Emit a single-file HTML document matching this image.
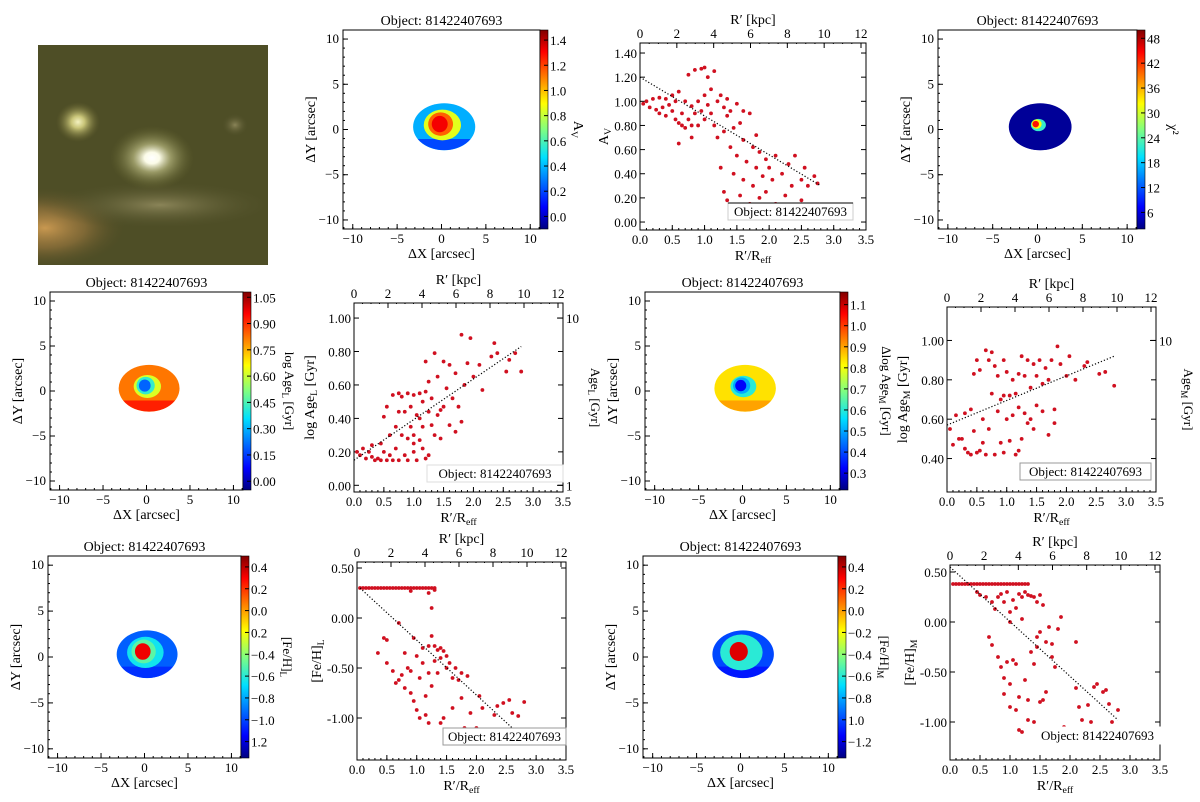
<!DOCTYPE html>
<html><head><meta charset="utf-8"><style>
html,body{margin:0;padding:0;background:#fff;}
svg{display:block;font-family:"Liberation Serif",serif;}
</style></head><body>
<svg id="fig" width="1200" height="802" viewBox="0 0 1200 802" xmlns="http://www.w3.org/2000/svg">
<defs>
<clipPath id="imgClip"><rect x="38" y="45" width="230" height="220"/></clipPath>
<radialGradient id="gBright" cx="50%" cy="50%" r="50%"><stop offset="0" stop-color="#ffffff"/><stop offset="0.18" stop-color="#fbfbe8"/><stop offset="0.45" stop-color="#b8b880" stop-opacity="0.7"/><stop offset="1" stop-color="#6a6a30" stop-opacity="0"/></radialGradient>
<radialGradient id="gSmall" cx="50%" cy="50%" r="50%"><stop offset="0" stop-color="#f4f2c0"/><stop offset="0.3" stop-color="#c8c478"/><stop offset="1" stop-color="#6a6630" stop-opacity="0"/></radialGradient>
<radialGradient id="gOrange" cx="50%" cy="50%" r="50%"><stop offset="0" stop-color="#c89850"/><stop offset="0.5" stop-color="#a07a40" stop-opacity="0.6"/><stop offset="1" stop-color="#5a5028" stop-opacity="0"/></radialGradient>
<radialGradient id="gFaint" cx="50%" cy="50%" r="50%"><stop offset="0" stop-color="#8a8458"/><stop offset="1" stop-color="#4a4a24" stop-opacity="0"/></radialGradient>
<linearGradient id="jet" x1="0" y1="1" x2="0" y2="0"><stop offset="0" stop-color="#000080"/><stop offset="0.11" stop-color="#0000ff"/><stop offset="0.36" stop-color="#00e0ff"/><stop offset="0.5" stop-color="#80ff80"/><stop offset="0.63" stop-color="#ffff00"/><stop offset="0.89" stop-color="#ff0000"/><stop offset="1" stop-color="#800000"/></linearGradient>
</defs>
<g clip-path="url(#imgClip)">
<rect x="38" y="45" width="230" height="220" fill="#4e4e26"/>
<ellipse cx="45" cy="228" rx="80" ry="40" fill="url(#gOrange)"/>
<ellipse cx="160" cy="205" rx="120" ry="25" fill="url(#gFaint)"/>
<ellipse cx="235" cy="125" rx="14" ry="12" fill="url(#gFaint)"/>
<ellipse cx="78" cy="122" rx="22" ry="20" fill="url(#gSmall)"/>
<ellipse cx="152" cy="158" rx="42" ry="32" fill="url(#gBright)"/>
</g>
</svg>
<script>
var NS="http://www.w3.org/2000/svg";
var svg=document.getElementById('fig');
function mk(tag,parent){var e=document.createElementNS(NS,tag);(parent||svg).appendChild(e);return e;}
function at(e,o){for(var k in o)e.setAttribute(k,o[k]);return e;}
function txt(parent,x,y,s,size,anchor,rot){var t=mk('text',parent);at(t,{x:x,y:y,'font-size':size||12,'text-anchor':anchor||'middle',fill:'#000'});if(rot)t.setAttribute('transform','rotate('+rot+' '+x+' '+y+')');t.textContent=s;return t;}
function txtSub(parent,x,y,main,sub,tail,size,anchor,rot){var t=mk('text',parent);at(t,{x:x,y:y,'font-size':size,'text-anchor':anchor||'middle',fill:'#000'});if(rot)t.setAttribute('transform','rotate('+rot+' '+x+' '+y+')');
 var a=mk('tspan',t);a.textContent=main;var b=mk('tspan',t);at(b,{'font-size':size*0.7,dy:3});b.textContent=sub;var c=mk('tspan',t);at(c,{dy:-3});c.textContent=tail||'';return t;}
function jet(v){var s=[[0,[0,0,128]],[0.11,[0,0,255]],[0.36,[0,224,255]],[0.5,[128,255,128]],[0.63,[255,255,0]],[0.89,[255,0,0]],[1,[128,0,0]]];v=Math.max(0,Math.min(1,v));
 for(var i=1;i<s.length;i++){if(v<=s[i][0]){var f=(v-s[i-1][0])/(s[i][0]-s[i-1][0]);var c=s[i-1][1].map(function(a,j){return Math.round(a+(s[i][1][j]-a)*f);});return 'rgb('+c.join(',')+')';}}return 'rgb(128,0,0)';}

/* ---------- map data ---------- */
var mapTitle="Object: 81422407693";
var cbTicksA=[0.0,0.2,0.4,0.6,0.8,1.0,1.2,1.4];
var cbLabelsA=["0.0","0.2","0.4","0.6","0.8","1.0","1.2","1.4"];
var ringValsA=[0.2,0.38,0.85,1.15,1.32];
var cbTicksB=[6,12,18,24,30,36,42,48];
var cbLabelsB=["6","12","18","24","30","36","42","48"];
var ringValsB=[3,3,22,32,44];
var cbTicksC=[0,0.15,0.3,0.45,0.6,0.75,0.9,1.05];
var cbLabelsC=["0.00","0.15","0.30","0.45","0.60","0.75","0.90","1.05"];
var ringValsC=[0.92,0.82,0.62,0.42,0.2];
var cbTicksD=[0.3,0.4,0.5,0.6,0.7,0.8,0.9,1.0,1.1];
var cbLabelsD=["0.3","0.4","0.5","0.6","0.7","0.8","0.9","1.0","1.1"];
var ringValsD=[0.9,0.84,0.6,0.5,0.32];
var cbTicksE=[-1.2,-1.0,-0.8,-0.6,-0.4,-0.2,0.0,0.2,0.4];
var cbLabelsE=["1.2","\u22121.0","\u22120.8","\u22120.6","\u22120.4","0.2","0.0","0.2","0.4"];
var ringValsE=[-1.05,-0.95,-0.65,-0.5,0.32];
var cbTicksF=[-1.2,-1.0,-0.8,-0.6,-0.4,-0.2,0.0,0.2,0.4];
var cbLabelsF=["\u22121.2","1.0","\u22120.8","\u22120.6","\u22120.4","\u22120.2","0.0","0.2","0.4"];
var ringValsF=[-1.1,-1.0,-0.6,-0.6,0.35];

function drawMap(name,b,cb,ticks,labels,rings,cbName,cbLabelFn,coreScale){
 var g=mk('g');
 
 
 var w=b.x1-b.x0,h=b.y1-b.y0;
 function X(v){return b.x0+(v+11.1)/22.2*w;}
 function Y(v){return b.y1-(v+11)/22*h;}
 var sx=w/22.2,sy=h/22;
 var t=txt(g,(b.x0+b.x1)/2,b.y0-5,mapTitle,14);
 
 
 var e0=mk('ellipse',g);at(e0,{cx:X(0.3),cy:Y(0.3),rx:3.5*sx,ry:2.6*sy,fill:jet(cb.n(rings[1]))});
 var cp=mk('path',g);var cx=X(0.3),cy=Y(0.3),rx=3.5*sx,ry=2.6*sy;
 at(cp,{d:'M'+(cx-rx*0.85)+' '+(cy+ry*0.52)+' A'+rx+' '+ry+' 0 0 0 '+(cx+rx*0.85)+' '+(cy+ry*0.52)+' Z',fill:jet(cb.n(rings[0]))});
 var cs=coreScale||1;
 var e2=mk('ellipse',g);at(e2,{cx:X(0.1),cy:Y(0.5),rx:2.1*sx*cs,ry:1.7*sy*cs,fill:jet(cb.n(rings[2]))});
 var e3=mk('ellipse',g);at(e3,{cx:X(-0.1),cy:Y(0.6),rx:1.4*sx*cs,ry:1.3*sy*cs,fill:jet(cb.n(rings[3]))});
 var e4=mk('ellipse',g);at(e4,{cx:X(-0.2),cy:Y(0.6),rx:0.9*sx*cs,ry:0.9*sy*cs,fill:jet(cb.n(rings[4]))});
 var fr=mk('rect',g);at(fr,{x:b.x0,y:b.y0,width:w,height:h,fill:'none',stroke:'#000','stroke-width':1});
 
 
 [-10,-5,0,5,10].forEach(function(v){
  var l=mk('line',g);at(l,{x1:X(v),x2:X(v),y1:b.y1,y2:b.y1-5,stroke:'#000'});
  var l2=mk('line',g);at(l2,{x1:b.x0,x2:b.x0+5,y1:Y(v),y2:Y(v),stroke:'#000'});
  txt(g,X(v),b.y1+14,v<0?'\u2212'+(-v):''+v,13);
  txt(g,b.x0-4,Y(v)+4,v<0?'\u2212'+(-v):''+v,13,'end');
 });
 for(var m=-11;m<=11;m++){var l3=mk('line',g);at(l3,{x1:X(m),x2:X(m),y1:b.y1,y2:b.y1-2,stroke:'#000'});var l4=mk('line',g);at(l4,{x1:b.x0,x2:b.x0+2,y1:Y(m),y2:Y(m),stroke:'#000'});}
 var xl=txt(g,(b.x0+b.x1)/2,b.y1+29,'\u0394X [arcsec]',14);
 
 
 var yl=txt(g,b.x0-28,(b.y0+b.y1)/2,'\u0394Y [arcsec]',14,'middle',-90);
 
 
 var cbr=mk('rect',g);at(cbr,{x:b.x1,y:b.y0,width:8,height:h,fill:'url(#jet)',stroke:'#000','stroke-width':0.6});
 
 
 ticks.forEach(function(v,i){var yy=b.y1-cb.n(v)*h;var tl=mk('line',g);at(tl,{x1:b.x1+8,x2:b.x1+4,y1:yy,y2:yy,stroke:'#000'});txt(g,b.x1+10,yy+5,labels[i],13,'start');});
 var cl=cbLabelFn(g,b.x1+42,(b.y0+b.y1)/2);
 
 
}
function rng(a,b){return {n:function(v){return (v-a)/(b-a);}};}

drawMap('map-av',{x0:343,x1:540,y0:30,y1:229},rng(-0.1,1.48),cbTicksA,cbLabelsA,ringValsA,'colorbar-title-av',function(g,x,y){return txtSub(g,x-8,y,'A','V','',14,'middle',90);});
drawMap('map-chi2',{x0:938,x1:1137,y0:30,y1:229},rng(2,50),cbTicksB,cbLabelsB,ringValsB,'colorbar-title-chi2',function(g,x,y){return txt(g,x-10,y,'\u03C7\u00B2',14,'middle',90);},0.4);
drawMap('map-age-l',{x0:50,x1:243,y0:292,y1:490},rng(-0.05,1.08),cbTicksC,cbLabelsC,ringValsC,'colorbar-title-age-l',function(g,x,y){return txtSub(g,x,y,'log Age','L',' [Gyr]',13,'middle',90);},0.75);
drawMap('map-age-m',{x0:645,x1:840,y0:292,y1:490},rng(0.22,1.16),cbTicksD,cbLabelsD,ringValsD,'colorbar-title-age-m',function(g,x,y){return txtSub(g,x,y,'\u0394log Age','M',' [Gyr]',13,'middle',90);},0.7);
drawMap('map-feh-l',{x0:48,x1:241,y0:556,y1:758},rng(-1.35,0.5),cbTicksE,cbLabelsE,ringValsE,'colorbar-title-feh-l',function(g,x,y){return txtSub(g,x,y,'[Fe/H]','L','',13,'middle',90);},1.0);
drawMap('map-feh-m',{x0:643,x1:838,y0:556,y1:758},rng(-1.35,0.5),cbTicksF,cbLabelsF,ringValsF,'colorbar-title-feh-m',function(g,x,y){return txtSub(g,x,y,'[Fe/H]','M','',13,'middle',90);},1.15);

/* ---------- scatter data ---------- */
var xTicks=[0,0.5,1,1.5,2,2.5,3,3.5];
var xTickLabels=["0.0","0.5","1.0","1.5","2.0","2.5","3.0","3.5"];
var kpcTicks=[0,2,4,6,8,10,12];

var avR=[0.05,0.1,0.15,0.2,0.25,0.3,0.3,0.35,0.4,0.4,0.45,0.5,0.5,0.55,0.55,0.6,0.6,0.65,0.65,0.7,0.7,0.75,0.75,0.8,0.8,0.85,0.85,0.9,0.9,0.95,0.95,1.0,1.0,1.0,1.05,1.05,1.1,1.1,1.15,1.15,1.2,1.2,1.25,1.3,1.3,1.35,1.35,1.4,1.4,1.45,1.5,1.5,1.55,1.6,1.6,1.65,1.7,1.75,1.8,1.8,1.85,1.9,1.95,2.0,2.05,2.1,2.2,2.3,2.35,2.4,2.5,2.55,2.6,2.7,2.75,1.3,1.35,1.45,1.55,1.6,1.7,1.75,1.85,1.95,2.1,2.25,2.5,0.6,0.8,1.25];
var avV=[0.98,1.0,0.95,1.02,0.93,0.9,1.03,0.95,1.02,0.88,0.97,1.05,0.92,0.85,1.0,0.82,1.08,0.9,0.8,1.0,0.78,1.22,0.85,0.96,0.8,0.9,1.26,1.0,0.8,1.27,0.92,1.28,1.05,0.85,0.97,1.2,0.9,1.1,1.25,0.8,1.0,0.7,1.05,0.95,0.75,0.88,1.02,0.62,0.92,0.78,0.98,0.55,0.82,0.68,0.92,0.5,0.9,0.62,0.45,0.72,0.58,0.38,0.52,0.45,0.35,0.55,0.4,0.48,0.3,0.55,0.35,0.45,0.3,0.38,0.32,0.25,0.18,0.4,0.22,0.35,0.15,0.3,0.2,0.25,0.15,0.22,0.18,0.65,0.7,0.45];
var avFit=[1.2,0.3];

var ageLR=[0.05,0.1,0.15,0.2,0.25,0.3,0.3,0.35,0.4,0.45,0.45,0.5,0.5,0.55,0.55,0.6,0.65,0.65,0.7,0.7,0.75,0.75,0.75,0.8,0.8,0.85,0.85,0.9,0.9,0.9,0.95,0.95,1.0,1.0,1.0,1.05,1.05,1.1,1.1,1.1,1.15,1.15,1.2,1.2,1.2,1.25,1.25,1.25,1.3,1.3,1.35,1.35,1.4,1.4,1.45,1.45,1.5,1.5,1.55,1.6,1.6,1.65,1.7,1.7,1.75,1.8,1.8,1.85,1.9,1.95,2.0,2.1,2.15,2.3,2.35,2.4,2.55,2.6,2.7,2.8,1.0,0.6,1.15];
var ageLV=[0.2,0.18,0.22,0.16,0.2,0.17,0.24,0.15,0.16,0.25,0.15,0.41,0.2,0.47,0.15,0.18,0.54,0.15,0.35,0.22,0.55,0.44,0.15,0.3,0.53,0.44,0.18,0.28,0.55,0.15,0.47,0.35,0.54,0.3,0.2,0.42,0.15,0.55,0.27,0.4,0.5,0.35,0.56,0.16,0.74,0.44,0.62,0.18,0.36,0.52,0.79,0.3,0.42,0.65,0.45,0.28,0.74,0.47,0.58,0.36,0.72,0.52,0.67,0.32,0.47,0.9,0.38,0.6,0.73,0.88,0.65,0.72,0.57,0.77,0.85,0.79,0.68,0.75,0.79,0.68,0.25,0.3,0.22];
var ageLFit=[0.15,0.83];

var ageMR=[0.05,0.1,0.15,0.2,0.25,0.3,0.3,0.35,0.4,0.4,0.45,0.45,0.5,0.5,0.55,0.55,0.6,0.6,0.65,0.65,0.7,0.7,0.75,0.75,0.8,0.8,0.85,0.85,0.9,0.9,0.95,0.95,1.0,1.0,1.05,1.05,1.1,1.1,1.15,1.15,1.2,1.2,1.25,1.25,1.3,1.3,1.35,1.35,1.4,1.45,1.45,1.5,1.5,1.55,1.6,1.6,1.65,1.7,1.7,1.75,1.8,1.8,1.85,1.9,2.0,2.05,2.15,2.3,2.35,2.55,2.65,2.8,0.95,1.2,1.4];
var ageMV=[0.55,0.47,0.62,0.5,0.5,0.63,0.45,0.43,0.65,0.42,0.54,0.83,0.9,0.43,0.85,0.44,0.6,0.48,0.95,0.42,0.9,0.55,0.94,0.73,0.87,0.42,0.64,0.82,0.7,0.48,0.9,0.43,0.84,0.6,0.72,0.49,0.8,0.62,0.73,0.42,0.66,0.83,0.92,0.5,0.63,0.82,0.9,0.58,0.76,0.55,0.88,0.82,0.67,0.9,0.64,0.78,0.86,0.52,0.8,0.9,0.65,0.58,0.97,0.88,0.82,0.92,0.8,0.87,0.89,0.83,0.84,0.77,0.72,0.44,0.6];
var ageMFit=[0.57,0.92];

var fehLR=[0.05,0.1,0.15,0.2,0.25,0.3,0.35,0.4,0.45,0.5,0.55,0.6,0.65,0.7,0.75,0.8,0.85,0.9,0.95,1.0,1.05,1.1,1.15,1.2,1.25,1.3,0.9,1.2,1.25,1.3,0.7,0.45,0.5,0.5,0.6,0.65,0.7,0.75,0.8,0.8,0.85,0.9,0.9,0.95,0.95,1.0,1.0,1.05,1.05,1.1,1.1,1.15,1.15,1.2,1.2,1.2,1.25,1.25,1.3,1.3,1.35,1.35,1.4,1.4,1.45,1.45,1.5,1.5,1.55,1.6,1.6,1.65,1.7,1.75,1.75,1.8,1.85,1.9,2.0,2.05,2.1,2.3,2.35,2.45,2.55,2.6,2.7,2.8,1.4,0.35];
var fehLV=[0.3,0.3,0.3,0.3,0.3,0.3,0.3,0.3,0.3,0.3,0.3,0.3,0.3,0.3,0.3,0.3,0.3,0.3,0.3,0.3,0.3,0.3,0.3,0.3,0.3,0.3,0.27,0.25,0.1,0.28,-0.05,-0.2,-0.22,-0.45,-0.53,-0.65,-0.62,-0.57,-0.7,-0.35,-0.5,-0.75,-0.53,-0.83,-0.2,-0.92,-0.38,-0.6,-1.0,-0.45,-0.3,-0.78,-0.97,-0.28,-0.55,-1.05,-0.68,-0.18,-0.28,-0.43,-0.32,-0.55,-0.3,-0.4,-0.33,-1.0,-0.38,-0.5,-0.45,-0.9,-0.6,-0.5,-0.62,-0.8,-0.55,-1.1,-0.58,-0.95,-1.1,-0.78,-0.9,-0.97,-0.88,-0.85,-0.82,-0.95,-0.98,-0.84,-1.05,-0.35];
var fehLFit=[0.3,-1.1];

var fehMR=[0.05,0.1,0.15,0.2,0.25,0.3,0.35,0.4,0.45,0.5,0.55,0.6,0.65,0.7,0.75,0.8,0.85,0.9,0.95,1.0,1.05,1.1,1.15,1.2,1.25,1.3,0.45,0.5,0.6,0.7,0.75,0.8,0.85,0.9,0.95,1.0,1.05,1.1,1.15,1.2,1.25,1.3,1.35,1.4,1.45,1.5,1.55,0.65,0.7,0.8,0.85,0.9,0.9,0.95,1.0,1.0,1.05,1.1,1.1,1.15,1.15,1.2,1.25,1.3,1.3,1.35,1.4,1.4,1.45,1.45,1.5,1.5,1.55,1.6,1.65,1.7,1.7,1.75,1.8,1.85,1.9,2.0,2.1,2.15,2.2,2.3,2.35,2.4,2.45,2.55,2.6,2.65,2.7,2.8,1.0,1.2,1.6,2.1];
var fehMV=[0.38,0.38,0.38,0.38,0.38,0.38,0.38,0.38,0.38,0.38,0.38,0.38,0.38,0.38,0.38,0.38,0.38,0.38,0.38,0.38,0.38,0.38,0.38,0.38,0.38,0.38,0.3,0.27,0.25,0.2,0.13,0.25,0.28,0.2,0.3,0.1,0.22,0.14,0.28,0.25,0.3,0.27,0.26,0.25,0.2,0.27,0.17,-0.15,-0.23,-0.35,-0.45,-0.56,-0.72,-0.4,-0.62,-0.85,-0.38,-0.88,-0.42,-0.75,-1.08,-1.1,-0.58,-0.78,-0.98,-0.3,-0.42,-1.0,-0.15,-0.25,-0.1,-0.8,-0.78,-0.7,-0.05,-0.35,-0.22,-0.45,-0.07,0.05,-1.05,-1.08,-0.66,-0.85,-0.98,-0.83,-1.0,-0.65,-0.62,-0.7,-0.68,-0.82,-1.0,-0.88,0.0,0.03,-0.2,-0.2];
var fehMFit=[0.55,-0.98];

function drawScatter(name,b,yr,yTicks,yLabels,R,V,fit,fitX,yTitleFn,legend,rightAxis){
 var g=mk('g');
 
 
 var w=b.x1-b.x0,h=b.y1-b.y0;
 function X(v){return b.x0+v/3.5*w;}
 function Y(v){return b.y1-(v-yr[0])/(yr[1]-yr[0])*h;}
 function K(k){return b.x0+k/12*(w-5);}
 var fr=mk('rect',g);at(fr,{x:b.x0,y:b.y0,width:w,height:h,fill:'none',stroke:'#000','stroke-width':1});
 
 
 xTicks.forEach(function(v,i){var l=mk('line',g);at(l,{x1:X(v),x2:X(v),y1:b.y1,y2:b.y1-5,stroke:'#000'});txt(g,X(v),b.y1+14,xTickLabels[i],13);});
 for(var m=0;m<=3.5;m+=0.1){var lm=mk('line',g);at(lm,{x1:X(m),x2:X(m),y1:b.y1,y2:b.y1-2,stroke:'#000'});}
 kpcTicks.forEach(function(k){var l=mk('line',g);at(l,{x1:K(k),x2:K(k),y1:b.y0,y2:b.y0+5,stroke:'#000'});txt(g,K(k),b.y0-5,''+k,13);});
 for(var q=0;q<=12.2;q+=0.5){var lq=mk('line',g);at(lq,{x1:K(q),x2:K(q),y1:b.y0,y2:b.y0+2,stroke:'#000','stroke-dasharray':'1 1'});}
 yTicks.forEach(function(v,i){var yy=Y(v);var l=mk('line',g);at(l,{x1:b.x0,x2:b.x0+5,y1:yy,y2:yy,stroke:'#000'});var l2=mk('line',g);at(l2,{x1:b.x1,x2:b.x1-5,y1:yy,y2:yy,stroke:'#000'});txt(g,b.x0-3,yy+5,yLabels[i],13,'end');});
 var xt=txtSub(g,(b.x0+b.x1)/2,b.y1+30,'R\u2032/R','eff','',14);
 
 
 var kt=txt(g,(b.x0+b.x1)/2,b.y0-19,'R\u2032 [kpc]',14);
 
 
 var yt=yTitleFn(g,b.x0-40,(b.y0+b.y1)/2);
 
 
 if(rightAxis){var rg=rightAxis;
  rg.vals.forEach(function(v,i){var yy=Y(v);var l=mk('line',g);at(l,{x1:b.x1,x2:b.x1-6,y1:yy,y2:yy,stroke:'#000'});txt(g,b.x1+3,yy+5,rg.labels[i],13,'start');});
  var rt=txtSub(g,b.x1+28,(b.y0+b.y1)/2,'Age',rg.sub,' [Gyr]',13,'middle',90);
  
  
 }
 for(var i=0;i<R.length;i++){
  var c=mk('circle',g);at(c,{cx:X(R[i]),cy:Y(V[i]),r:1.9,fill:'#d01020'});
  
  
 }
 var fl=mk('line',g);at(fl,{x1:X(fitX[0]),y1:Y(fit[0]),x2:X(fitX[1]),y2:Y(fit[1]),stroke:'#000','stroke-width':1.2,'stroke-dasharray':'1.2 2'});
 
 
 var lg=mk('g',g);
 
 
 var lr=mk('rect',lg);at(lr,{x:legend.x,y:legend.y,width:legend.w,height:17,fill:'#fff',stroke:legend.stroke||'#bbb','stroke-width':1});
 if(legend.top){var tl=mk('line',lg);at(tl,{x1:legend.x,x2:legend.x+legend.w,y1:legend.y,y2:legend.y,stroke:'#000'});}
 txt(lg,legend.x+legend.w/2,legend.y+13,'Object: 81422407693',13);
}

drawScatter('scatter-av',{x0:640,x1:866,y0:43,y1:230},[-0.066,1.483],[0,0.2,0.4,0.6,0.8,1.0,1.2,1.4],["0.00","0.20","0.40","0.60","0.80","1.00","1.20","1.40"],avR,avV,avFit,[0,2.8],function(g,x,y){return txtSub(g,x+8,y,'A','V','',14,'middle',-90);},{x:728,y:203,w:125,stroke:'#ccc',top:true},null);
drawScatter('scatter-age-l',{x0:354,x1:563,y0:303,y1:492},[-0.04,1.09],[0,0.2,0.4,0.6,0.8,1.0],["0.00","0.20","0.40","0.60","0.80","1.00"],ageLR,ageLV,ageLFit,[0,2.8],function(g,x,y){return txtSub(g,x,y,'log Age','L',' [Gyr]',14,'middle',-90);},{x:427,y:465,w:136,stroke:'#ddd'},{vals:[0,1],labels:['1','10'],sub:'L'});
drawScatter('scatter-age-m',{x0:947,x1:1156,y0:307,y1:492},[0.23,1.17],[0.4,0.6,0.8,1.0],["0.40","0.60","0.80","1.00"],ageMR,ageMV,ageMFit,[0,2.8],function(g,x,y){return txtSub(g,x,y,'log Age','M',' [Gyr]',14,'middle',-90);},{x:1020,y:463,w:131,stroke:'#999'},{vals:[1],labels:['10'],sub:'M'});
drawScatter('scatter-feh-l',{x0:357,x1:566,y0:562,y1:760},[-1.42,0.56],[-1.0,-0.5,0,0.5],["-1.00","-0.50","0.00","0.50"],fehLR,fehLV,fehLFit,[0.05,2.6],function(g,x,y){return txtSub(g,x+4,y,'[Fe/H]','L','',14,'middle',-90);},{x:443,y:728,w:123,stroke:'#999'},null);
drawScatter('scatter-feh-m',{x0:950,x1:1160,y0:565,y1:760},[-1.38,0.57],[-1.0,-0.5,0,0.5],["-1.00","-0.50","0.00","0.50"],fehMR,fehMV,fehMFit,[0,2.8],function(g,x,y){return txtSub(g,x+4,y,'[Fe/H]','M','',14,'middle',-90);},{x:1035,y:727,w:125,stroke:'#fff'},null);
</script>
</body></html>
